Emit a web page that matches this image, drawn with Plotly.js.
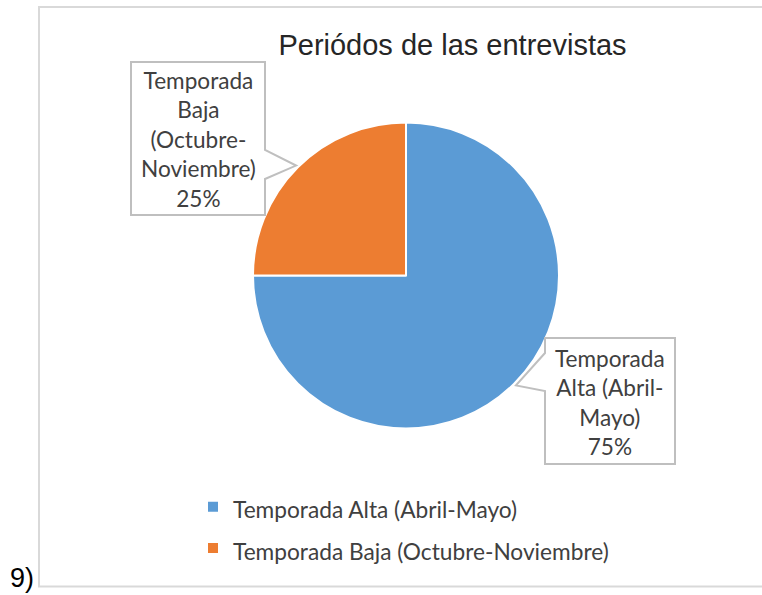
<!DOCTYPE html>
<html><head><meta charset="utf-8">
<script src="https://cdn.plot.ly/plotly-3.0.1.min.js"></script>
<style>html,body{margin:0;padding:0;background:#fff;}#chart{width:762px;height:595px;}</style>
</head><body><div id="chart"></div>
<script>
// ---- data ----
const categories = ["Temporada Alta (Abril-Mayo)", "Temporada Baja (Octubre-Noviembre)"];
const values = [75, 25];
const colors = ["#5B9BD5", "#ED7D31"];
const labelLines = [["Temporada", "Alta (Abril-", "Mayo)"], ["Temporada", "Baja", "(Octubre-", "Noviembre)"]];
const chartTitle = "Periódos de las entrevistas";
const figureTag = "9)";

// ---- layout geometry (pixels) ----
const W = 762, H = 595;
const cx = 406, cy = 275.5, R = 153, tipR = 155.5;
const px = x => x / W, py = y => 1 - y / H;
const boxes = [
  {l: 545, t: 338, r: 675, b: 464, side: 'left',  b0: 353, b1: 391},
  {l: 131, t: 62,  r: 265, b: 215, side: 'right', b0: 150, b1: 179}
];

const total = values.reduce((a, b) => a + b, 0);
let cum = 0;
const shapes = [{
  type: 'rect', xref: 'paper', yref: 'paper', layer: 'below',
  x0: px(39), y0: py(586.5), x1: 1.02, y1: py(7),
  line: {color: '#d9d9d9', width: 2}, fillcolor: 'rgba(0,0,0,0)'
}];
const annotations = [];
values.forEach((v, i) => {
  const mid = (cum + v / 2) / total; cum += v;
  const th = 2 * Math.PI * mid;
  const tx = cx + tipR * Math.sin(th), ty = cy - tipR * Math.cos(th);
  const b = boxes[i];
  const P = (x, y) => px(x).toFixed(5) + ',' + py(y).toFixed(5);
  let path;
  if (b.side === 'left') {
    path = 'M' + P(b.l, b.t) + ' L' + P(b.r, b.t) + ' L' + P(b.r, b.b) + ' L' + P(b.l, b.b) +
           ' L' + P(b.l, b.b1) + ' L' + P(tx, ty) + ' L' + P(b.l, b.b0) + ' Z';
  } else {
    path = 'M' + P(b.l, b.t) + ' L' + P(b.r, b.t) + ' L' + P(b.r, b.b0) + ' L' + P(tx, ty) +
           ' L' + P(b.r, b.b1) + ' L' + P(b.r, b.b) + ' L' + P(b.l, b.b) + ' Z';
  }
  shapes.push({type: 'path', xref: 'paper', yref: 'paper', layer: 'above', path: path,
    fillcolor: '#ffffff', line: {color: '#bfbfbf', width: 2}});
  const pct = Math.round(v / total * 100) + '%';
  annotations.push({
    xref: 'paper', yref: 'paper', x: px((b.l + b.r) / 2), y: py((b.t + b.b) / 2 + 1),
    xanchor: 'center', yanchor: 'middle', showarrow: false, align: 'center',
    text: labelLines[i].concat([pct]).join('<br>'),
    font: {family: 'Lato, sans-serif', size: 22.6, color: '#404040'}
  });
});
annotations.push({
  xref: 'paper', yref: 'paper', x: px(8), y: py(578), xanchor: 'left', yanchor: 'middle',
  showarrow: false, text: figureTag,
  font: {family: 'Liberation Sans, Arial, sans-serif', size: 27, color: '#000'}
});

// legend entries: larger line box (spacing) with the visible text at the label size
const legendLabels = categories.map(c => '<span style="font-size:22.7px">' + c + '</span>');

const trace = {
  type: 'pie', labels: legendLabels, values: values, sort: false, direction: 'clockwise',
  rotation: 0, textinfo: 'none', hoverinfo: 'skip',
  marker: {colors: colors, line: {color: '#ffffff', width: 2}},
  domain: {x: [px(cx - R), px(cx + R)], y: [py(cy + R), py(cy - R)]}
};

const layout = {
  width: W, height: H, margin: {l: 0, r: 0, t: 0, b: 0},
  paper_bgcolor: '#fff', plot_bgcolor: '#fff',
  title: {text: chartTitle, xref: 'paper', yref: 'paper', x: px(452.5), xanchor: 'center',
          y: py(45), yanchor: 'middle',
          font: {family: 'Liberation Sans, Arial, sans-serif', size: 29, color: '#262626'}},
  showlegend: true,
  legend: {orientation: 'v', x: px(193), y: py(481), xanchor: 'left', yanchor: 'top',
           bgcolor: 'rgba(0,0,0,0)', font: {family: 'Lato, sans-serif', size: 29.5, color: '#404040'}},
  shapes: shapes, annotations: annotations
};

Plotly.newPlot('chart', [trace], layout, {staticPlot: true, displayModeBar: false});
</script>
</body></html>
